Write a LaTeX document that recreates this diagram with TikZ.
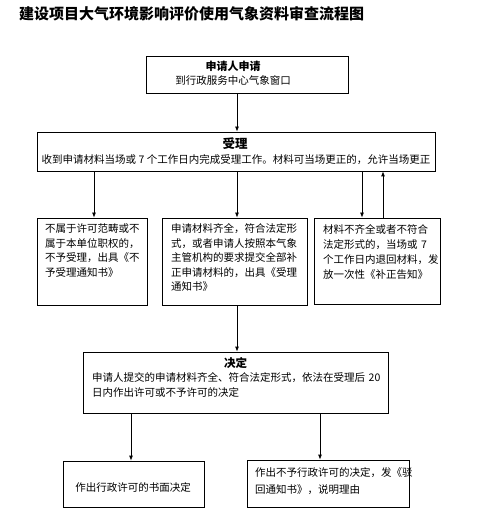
\documentclass[tikz,border=0pt]{standalone}
\usepackage{fontspec}
\setmainfont{Noto Sans CJK SC}
\usetikzlibrary{arrows.meta}
\newcommand\myfs[2]{\fontsize{#1}{#2}\selectfont}
\begin{document}
\begin{tikzpicture}[x=1pt,y=-1pt,
  boxst/.style={draw=black, line width=0.8pt, inner sep=0pt},
  txt/.style={inner sep=0pt, anchor=base west, align=left, text width=300pt, font=\myfs{10.5pt}{14.5pt}},
  ctxt/.style={inner sep=0pt, anchor=base, align=center, font=\myfs{10.5pt}{14.5pt}},
  ttl/.style={inner sep=0pt, anchor=base, font=\bfseries\myfs{#1}{#1}},
  arr/.style={line width=0.8pt, -{Latex[length=5pt,width=4pt]}}]
\useasboundingbox[fill=white] (0,0) rectangle (480,518);
% title
\node[inner sep=0pt, anchor=base west, font=\bfseries\myfs{15pt}{16pt}] (title) at (19,19.5) {建设项目大气环境影响评价使用气象资料审查流程图};
% boxes
\node[boxst, minimum width=202pt, minimum height=37pt] (b1) at (247,74.5) {};
\node[boxst, minimum width=398pt, minimum height=39pt] (b2) at (236,151.5) {};
\node[boxst, minimum width=110pt, minimum height=87pt] (b3) at (92,261.5) {};
\node[boxst, minimum width=145pt, minimum height=87pt] (b4) at (234.5,261.5) {};
\node[boxst, minimum width=126pt, minimum height=86pt] (b5) at (377,261) {};
\node[boxst, minimum width=305pt, minimum height=61pt] (b6) at (235.5,382.5) {};
\node[boxst, minimum width=141pt, minimum height=46pt] (b7) at (133.5,484) {};
\node[boxst, minimum width=162pt, minimum height=47pt] (b8) at (328,483.5) {};
% texts
\node[ttl=11pt] (t1a) at (233,70.1) {申请人申请};
\node[ctxt] (t1b) at (233,84.9) {到行政服务中心气象窗口};
\node[ttl=12.5pt] (t2a) at (235,148.6) {受理};
\node[ctxt] (t2b) at (236,163.9) {收到申请材料当场或 7 个工作日内完成受理工作。材料可当场更正的，允许当场更正};
\node[txt] (t3) at (45,232.9) {不属于许可范畴或不\\属于本单位职权的，\\不予受理，出具《不\\予受理通知书》};
\node[txt] (t4) at (171,232.9) {申请材料齐全，符合法定形\\式，或者申请人按照本气象\\主管机构的要求提交全部补\\正申请材料的，出具《受理\\通知书》};
\node[txt, font=\myfs{10.5pt}{15pt}] (t5) at (323,233.9) {材料不齐全或者不符合\\法定形式的，当场或 7\\个工作日内退回材料，发\\放一次性《补正告知》};
\node[ttl=11.5pt] (t6a) at (235.5,367.3) {决定};
\node[txt, font=\myfs{10.5pt}{15pt}] (t6b) at (92,381.9) {申请人提交的申请材料齐全、符合法定形式，依法在受理后 20\\日内作出许可或不予许可的决定};
\node[ctxt] (t7) at (133,491.9) {作出行政许可的书面决定};
\node[txt, font=\myfs{10.5pt}{17pt}] (t8) at (255,476.9) {作出不予行政许可的决定，发《驳\\回通知书》，说明理由};
% connector x positions
\coordinate (xa) at (237,0);
\coordinate (xl) at (94,0);
\coordinate (xr) at (362,0);
\coordinate (xu) at (383,0);
\coordinate (xd1) at (131,0);
\coordinate (xd2) at (320,0);
% connectors
\draw[arr] (xa |- b1.south) -- (xa |- b2.north);
\draw[arr] (xl |- b2.south) -- (xl |- b3.north);
\draw[arr] (xa |- b2.south) -- (xa |- b4.north);
\draw[arr] (xr |- b2.south) -- (xr |- b5.north);
\draw[arr] (xu |- b5.north) -- (xu |- b2.south);
\draw[arr] (xa |- b4.south) -- (xa |- b6.north);
\draw[arr] (xd1 |- b6.south) -- (xd1 |- b7.north);
\draw[arr] (xd2 |- b6.south) -- (xd2 |- b8.north);
\end{tikzpicture}
\end{document}
